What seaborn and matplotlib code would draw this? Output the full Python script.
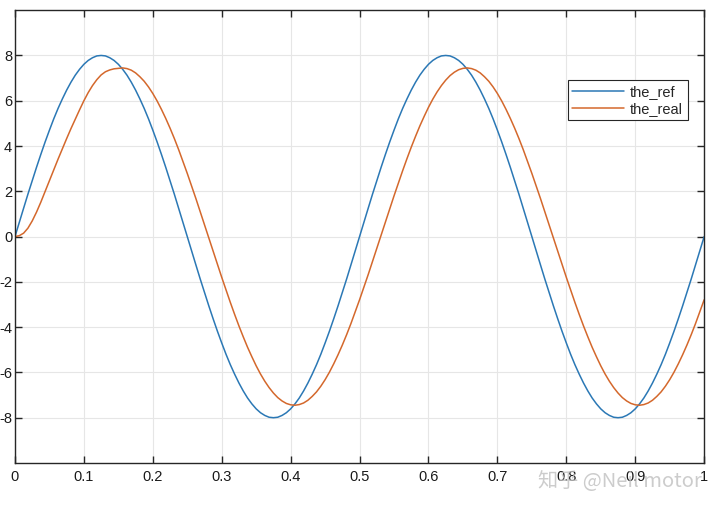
import numpy as np
import pandas as pd
import seaborn as sns
import matplotlib
matplotlib.use("Agg")
import matplotlib.pyplot as plt

# time axis, step 0.00625 s
t = [round(0.00625 * k, 5) for k in range(161)]

# the_ref: one rising/falling half wave, then repeated with sign
ref_half = [0, 0.63, 1.25, 1.87, 2.47, 3.06, 3.63, 4.18, 4.70, 5.20, 5.66, 6.08,
            6.47, 6.82, 7.13, 7.39, 7.61, 7.78, 7.90, 7.98, 8.00,
            7.98, 7.90, 7.78, 7.61, 7.39, 7.13, 6.82, 6.47, 6.08, 5.66, 5.20,
            4.70, 4.18, 3.63, 3.06, 2.47, 1.87, 1.25, 0.63]
the_ref = ref_half + [-v for v in ref_half] + ref_half + [-v for v in ref_half] + [0]

# the_real: start-up part, then a settled half wave repeated with sign
real_start = [0, 0.04, 0.15, 0.37, 0.69, 1.08, 1.52, 1.99, 2.47, 2.95, 3.42, 3.88,
              4.33, 4.77, 5.19, 5.60, 6.00, 6.36, 6.67, 6.93, 7.14, 7.28, 7.36, 7.41]
real_half = [7.43, 7.45, 7.42, 7.35, 7.23, 7.06, 6.86, 6.61, 6.32, 5.99, 5.62, 5.22,
             4.79, 4.33, 3.84, 3.32, 2.79, 2.24, 1.68, 1.10, 0.52, -0.06, -0.65,
             -1.23, -1.80, -2.36, -2.91, -3.44, -3.95, -4.43, -4.89, -5.31, -5.71,
             -6.07, -6.39, -6.67, -6.91, -7.11, -7.26, -7.37]
the_real = (real_start + real_half + [-v for v in real_half] + real_half
            + [-v for v in real_half][:17])

x_ticks = [0, 0.1, 0.2, 0.3, 0.4, 0.5, 0.6, 0.7, 0.8, 0.9, 1]
x_labels = ["0", "0.1", "0.2", "0.3", "0.4", "0.5", "0.6", "0.7", "0.8", "0.9", "1"]
y_ticks = [-8, -6, -4, -2, 0, 2, 4, 6, 8]

df = pd.DataFrame({
    "t": t + t,
    "y": the_ref + the_real,
    "signal": ["the_ref"] * len(t) + ["the_real"] * len(t),
})

sns.set_theme(style="whitegrid")
plt.rcParams["font.family"] = ["Liberation Sans", "DejaVu Sans"]
plt.rcParams["axes.unicode_minus"] = False

fig = plt.figure(figsize=(7.2, 5.09), dpi=100)
ax = fig.add_axes([0.0208, 0.0904, 0.9572, 0.8896])

sns.lineplot(data=df, x="t", y="y", hue="signal", estimator=None,
             palette={"the_ref": "#2b78b5", "the_real": "#d4682c"},
             linewidth=1.1, ax=ax)

ax.set_xlim(0, 1)
ax.set_ylim(-10, 10)
ax.set_xticks(x_ticks)
ax.set_xticklabels(x_labels)
ax.set_yticks(y_ticks)
ax.set_xlabel("")
ax.set_ylabel("")

ax.grid(True, color="#e6e6e6", linewidth=0.8)
for s in ax.spines.values():
    s.set_visible(True)
    s.set_color("#262626")
    s.set_linewidth(1.0)
ax.tick_params(axis="both", direction="in", length=5, width=1.0, color="#262626",
               labelsize=10.5, labelcolor="#1a1a1a", top=True, right=True,
               bottom=True, left=True)
ax.tick_params(axis="y", pad=2)
ax.tick_params(axis="x", pad=5)

handles, labels = ax.get_legend_handles_labels()
leg = ax.legend(handles, labels, loc="upper right", bbox_to_anchor=(0.976, 0.845),
                borderaxespad=0, frameon=True, fancybox=False, edgecolor="#262626",
                framealpha=1, fontsize=10.5, handlelength=3.6, handletextpad=0.4,
                borderpad=0.3, labelspacing=0.2)
leg.get_frame().set_linewidth(0.8)

# watermark, bottom right
fig.text(0.975, 0.055, "知乎 @Neil motor", fontsize=14.5, color="#c0c0c0", alpha=0.8,
         family=["Noto Sans CJK SC", "DejaVu Sans"], va="center", ha="right")

fig.savefig("out.png", dpi=100)
